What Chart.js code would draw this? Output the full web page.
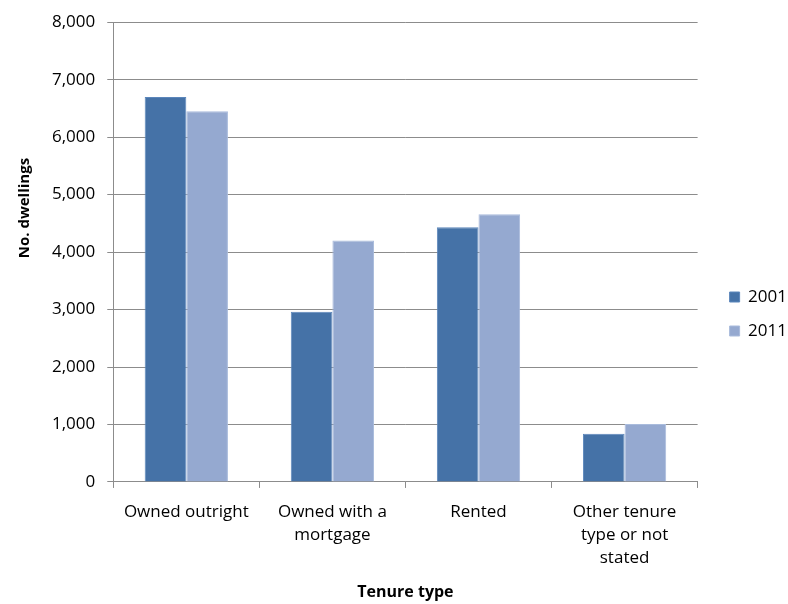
<!DOCTYPE html>
<html>
<head>
<meta charset="utf-8">
<script src="https://cdn.jsdelivr.net/npm/chart.js@4"></script>
<style>
  html, body { margin: 0; padding: 0; background: #fff; }
  #wrap { width: 788px; height: 604px; }
</style>
</head>
<body>
<div id="wrap"><canvas id="chart"></canvas></div>
<script>
const categories = [
    ['Owned outright'],
    ['Owned with a', 'mortgage'],
    ['Rented'],
    ['Other tenure', 'type or not', 'stated']
];
const values2001 = [6700, 2960, 4430, 840];
const values2011 = [6450, 4200, 4660, 1010];
const yTicks = [0, 1000, 2000, 3000, 4000, 5000, 6000, 7000, 8000];

const FONT = "'Open Sans', 'Liberation Sans', sans-serif";
const GRID = '#8c8c8c';

// tweak legend and y title position to sit where the reference has them
const nudge = {
    id: 'nudge',
    beforeInit(chart) {
        const orig = chart.legend.fit;
        chart.legend.fit = function () {
            orig.call(this);
            this.width += 6;
        };
    },
    afterLayout(chart) {
        const lg = chart.legend;
        lg.left += 15; lg.right += 15;
        lg.top += 7; lg.bottom += 7;
        const y = chart.scales.y;
        if (!y._titleMoved) {
            const drawTitle = y.drawTitle;
            y.drawTitle = function () {
                this.ctx.save();
                this.ctx.translate(0, -44);
                drawTitle.call(this);
                this.ctx.restore();
            };
            y._titleMoved = true;
        }
    }
};

new Chart(document.getElementById('chart'), {
    type: 'bar',
    data: {
        labels: categories,
        datasets: [
            { label: '2001', data: values2001, backgroundColor: '#4572a7', borderColor: '#5b86bb', borderWidth: 1 },
            { label: '2011', data: values2011, backgroundColor: '#95a9d0', borderColor: '#a9bbdc', borderWidth: 1 }
        ]
    },
    options: {
        responsive: true,
        maintainAspectRatio: false,
        animation: false,
        layout: { padding: { top: 12, right: 0, left: 12, bottom: 2 } },
        datasets: { bar: { categoryPercentage: 0.57, barPercentage: 1.0 } },
        plugins: {
            legend: {
                position: 'right',
                labels: {
                    boxWidth: 10,
                    boxHeight: 10,
                    padding: 17,
                    color: '#000',
                    font: { family: FONT, size: 17 }
                }
            },
            tooltip: { enabled: false }
        },
        scales: {
            x: {
                grid: { drawOnChartArea: false, drawTicks: true, tickLength: 6, color: GRID },
                border: { color: GRID },
                ticks: { color: '#000', font: { family: FONT, size: 17, lineHeight: 1.35 }, padding: 13, maxRotation: 0 },
                title: { display: true, text: 'Tenure type', color: '#000', font: { family: FONT, size: 16, weight: 'bold' }, padding: { top: 0, bottom: 0 } }
            },
            y: {
                min: 0,
                max: 8000,
                afterBuildTicks: (axis) => { axis.ticks = yTicks.map(v => ({ value: v })); },
                grid: { color: GRID, tickLength: 6 },
                border: { color: GRID },
                ticks: {
                    color: '#000',
                    padding: 12,
                    font: { family: FONT, size: 17 },
                    callback: (v) => v.toLocaleString('en-US')
                },
                title: { display: true, text: 'No. dwellings', color: '#000', font: { family: FONT, size: 15, weight: 'bold' }, padding: { bottom: 6 } }
            }
        }
    },
    plugins: [nudge]
});
</script>
</body>
</html>
